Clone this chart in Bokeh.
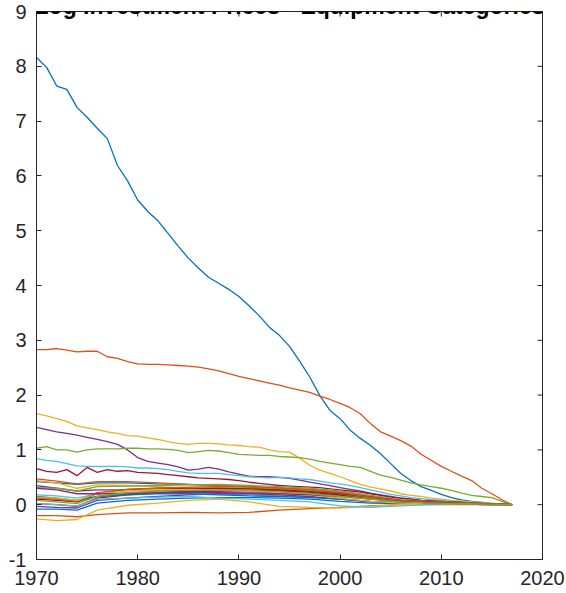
from bokeh.plotting import figure
from bokeh.models import Range1d, FixedTicker, Label
from bokeh.embed import file_html
from bokeh.resources import INLINE

TITLE = "Log Investment Prices - Equipment Categories"
XTICKS = [1970, 1980, 1990, 2000, 2010, 2020]
YTICKS = [-1, 0, 1, 2, 3, 4, 5, 6, 7, 8, 9]
YTICK_LABELS = {-1: "-1"}

COLORS = ["#0072BD", "#D95319", "#EDB120", "#7E2F8E", "#77AC30", "#4DBEEE", "#A2142F"]

YEARS = list(range(1970, 2018))

s1 = [8.16, 7.98, 7.64, 7.58, 7.25, 7.07, 6.87, 6.68, 6.19, 5.91,
      5.56, 5.35, 5.18, 4.95, 4.72, 4.50, 4.32, 4.15, 4.04, 3.93,
      3.80, 3.63, 3.45, 3.24, 3.09, 2.89, 2.62, 2.33, 1.99, 1.72,
      1.57, 1.36, 1.21, 1.08, 0.93, 0.75, 0.57, 0.44, 0.33, 0.26,
      0.19, 0.13, 0.09, 0.06, 0.04, 0.02, 0.01, 0.00]
s2 = [2.83, 2.83, 2.85, 2.82, 2.79, 2.80, 2.80, 2.70, 2.67, 2.61,
      2.57, 2.56, 2.56, 2.55, 2.54, 2.53, 2.51, 2.48, 2.44, 2.39,
      2.34, 2.30, 2.26, 2.22, 2.18, 2.13, 2.09, 2.05, 1.98, 1.92,
      1.85, 1.77, 1.66, 1.48, 1.33, 1.25, 1.17, 1.07, 0.92, 0.81,
      0.70, 0.61, 0.52, 0.44, 0.30, 0.20, 0.09, 0.00]
s3 = [1.66, 1.62, 1.57, 1.52, 1.44, 1.40, 1.37, 1.33, 1.30, 1.26,
      1.25, 1.22, 1.19, 1.15, 1.12, 1.10, 1.12, 1.12, 1.11, 1.09,
      1.08, 1.06, 1.05, 1.00, 0.97, 0.96, 0.85, 0.72, 0.63, 0.57,
      0.51, 0.44, 0.37, 0.32, 0.29, 0.25, 0.20, 0.17, 0.15, 0.12,
      0.10, 0.08, 0.07, 0.05, 0.04, 0.03, 0.01, 0.00]
s4 = [1.41, 1.37, 1.33, 1.30, 1.27, 1.23, 1.19, 1.15, 1.10, 1.00,
      0.86, 0.79, 0.76, 0.73, 0.69, 0.63, 0.65, 0.68, 0.65, 0.60,
      0.56, 0.52, 0.51, 0.51, 0.50, 0.48, 0.45, 0.41, 0.38, 0.35,
      0.31, 0.28, 0.25, 0.21, 0.18, 0.15, 0.12, 0.10, 0.08, 0.07,
      0.06, 0.05, 0.04, 0.03, 0.02, 0.02, 0.01, 0.00]
s5 = [1.03, 1.06, 1.00, 1.00, 0.96, 1.00, 1.02, 1.02, 1.02, 1.03,
      1.03, 1.02, 1.02, 1.01, 0.99, 0.95, 0.97, 0.99, 0.98, 0.95,
      0.92, 0.91, 0.90, 0.90, 0.88, 0.87, 0.86, 0.83, 0.79, 0.76,
      0.73, 0.70, 0.68, 0.61, 0.54, 0.50, 0.45, 0.40, 0.36, 0.33,
      0.30, 0.26, 0.21, 0.17, 0.15, 0.13, 0.06, 0.00]
s6 = [0.84, 0.81, 0.79, 0.75, 0.71, 0.70, 0.70, 0.70, 0.70, 0.69,
      0.67, 0.67, 0.66, 0.64, 0.61, 0.58, 0.57, 0.57, 0.57, 0.55,
      0.53, 0.51, 0.50, 0.49, 0.50, 0.49, 0.47, 0.46, 0.43, 0.40,
      0.38, 0.35, 0.31, 0.27, 0.23, 0.19, 0.16, 0.13, 0.11, 0.09,
      0.08, 0.06, 0.05, 0.04, 0.03, 0.02, 0.01, 0.00]
s7 = [0.66, 0.61, 0.59, 0.64, 0.53, 0.68, 0.59, 0.64, 0.61, 0.62,
      0.59, 0.58, 0.57, 0.55, 0.53, 0.51, 0.49, 0.48, 0.47, 0.46,
      0.44, 0.41, 0.39, 0.37, 0.35, 0.34, 0.33, 0.32, 0.31, 0.29,
      0.27, 0.25, 0.23, 0.20, 0.17, 0.14, 0.12, 0.10, 0.08, 0.07,
      0.06, 0.05, 0.04, 0.03, 0.02, 0.01, 0.01, 0.00]

# remaining categories (values read at these years)
CL_YEARS = [1970, 1972, 1974, 1976, 1979, 1982, 1985, 1988, 1991,
            1994, 1997, 2000, 2003, 2006, 2009, 2012, 2015, 2017]
s8 = [0.42, 0.40, 0.37, 0.40, 0.40, 0.38, 0.37, 0.35, 0.33, 0.30, 0.27, 0.22, 0.15, 0.08, 0.05, 0.03, 0.02, 0.00]
s9 = [0.47, 0.43, 0.38, 0.42, 0.42, 0.40, 0.37, 0.35, 0.33, 0.31, 0.28, 0.24, 0.16, 0.09, 0.06, 0.04, 0.02, 0.00]
s10 = [0.44, 0.40, 0.30, 0.36, 0.35, 0.33, 0.30, 0.28, 0.27, 0.25, 0.23, 0.18, 0.12, 0.07, 0.05, 0.03, 0.01, 0.00]
s11 = [0.35, 0.30, 0.25, 0.27, 0.27, 0.26, 0.25, 0.24, 0.23, 0.22, 0.20, 0.17, 0.12, 0.07, 0.04, 0.02, 0.01, 0.00]
s12 = [0.31, 0.30, 0.25, 0.33, 0.34, 0.35, 0.36, 0.37, 0.35, 0.33, 0.30, 0.25, 0.17, 0.09, 0.05, 0.03, 0.01, 0.00]
s13 = [0.18, 0.16, 0.12, 0.20, 0.22, 0.22, 0.21, 0.20, 0.18, 0.16, 0.14, 0.10, 0.06, 0.03, 0.02, 0.01, 0.00, 0.00]
s14 = [0.02, 0.00, -0.03, 0.12, 0.18, 0.22, 0.25, 0.27, 0.26, 0.25, 0.23, 0.18, 0.11, 0.06, 0.03, 0.02, 0.01, 0.00]
s15 = [-0.08, -0.08, -0.10, 0.03, 0.08, 0.10, 0.12, 0.13, 0.13, 0.12, 0.10, 0.06, 0.03, 0.02, 0.01, 0.01, 0.00, 0.00]
s16 = [-0.20, -0.20, -0.22, -0.18, -0.15, -0.15, -0.14, -0.15, -0.14, -0.10, -0.07, -0.05, -0.02, 0.00, 0.00, 0.00, 0.00, 0.00]
s17 = [-0.26, -0.29, -0.27, -0.10, -0.01, 0.03, 0.08, 0.10, 0.05, -0.03, -0.05, -0.06, -0.03, 0.00, 0.01, 0.01, 0.00, 0.00]
s18 = [-0.03, -0.05, -0.06, 0.08, 0.12, 0.15, 0.18, 0.20, 0.20, 0.18, 0.15, 0.10, 0.05, 0.03, 0.02, 0.01, 0.00, 0.00]
s19 = [0.12, 0.10, 0.05, 0.15, 0.20, 0.25, 0.28, 0.30, 0.30, 0.28, 0.25, 0.20, 0.12, 0.06, 0.03, 0.02, 0.01, 0.00]
s20 = [0.02, 0.00, -0.02, 0.10, 0.12, 0.14, 0.15, 0.12, 0.10, 0.08, 0.05, -0.02, -0.05, -0.02, 0.00, 0.01, 0.00, 0.00]
s21 = [0.10, 0.08, 0.05, 0.20, 0.28, 0.30, 0.30, 0.30, 0.29, 0.27, 0.24, 0.20, 0.14, 0.08, 0.05, 0.03, 0.01, 0.00]
s22 = [0.15, 0.12, 0.08, 0.15, 0.18, 0.20, 0.20, 0.18, 0.16, 0.15, 0.13, 0.10, 0.06, 0.04, 0.02, 0.01, 0.00, 0.00]
s23 = [0.12, 0.10, 0.06, 0.22, 0.28, 0.30, 0.32, 0.33, 0.32, 0.30, 0.27, 0.22, 0.14, 0.08, 0.04, 0.02, 0.01, 0.00]
s24 = [0.14, 0.12, 0.08, 0.20, 0.25, 0.27, 0.28, 0.27, 0.25, 0.22, 0.18, 0.12, 0.06, 0.03, 0.02, 0.01, 0.00, 0.00]
s25 = [0.30, 0.27, 0.20, 0.20, 0.20, 0.22, 0.23, 0.22, 0.21, 0.20, 0.18, 0.15, 0.10, 0.06, 0.03, 0.02, 0.01, 0.00]
s26 = [0.08, 0.05, 0.02, 0.15, 0.22, 0.25, 0.26, 0.27, 0.26, 0.24, 0.20, 0.15, 0.10, 0.05, 0.03, 0.02, 0.01, 0.00]

SERIES = [(YEARS, s) for s in (s1, s2, s3, s4, s5, s6, s7)] + \
         [(CL_YEARS, s) for s in (s8, s9, s10, s11, s12, s13, s14, s15, s16, s17,
                                  s18, s19, s20, s21, s22, s23, s24, s25, s26)]

FONT = "Liberation Sans"
AX = "#262626"

p = figure(width=566, height=593, output_backend="svg", toolbar_location=None,
           x_range=Range1d(1970, 2020), y_range=Range1d(-1, 9),
           min_border_left=36, min_border_right=24, min_border_top=11, min_border_bottom=34)
p.background_fill_color = "white"
p.border_fill_color = "white"
p.outline_line_color = AX
p.grid.visible = False

for i, (xs, ys) in enumerate(SERIES):
    p.line(xs, ys, line_color=COLORS[i % len(COLORS)], line_width=1.3)

# tick marks on the top and right edges of the box (pointing inward)
p.ray(x=XTICKS, y=[9] * len(XTICKS), length=5, length_units="screen",
      angle=-90, angle_units="deg", line_color=AX, line_width=1)
p.ray(x=[2020] * len(YTICKS), y=YTICKS, length=5, length_units="screen",
      angle=180, angle_units="deg", line_color=AX, line_width=1)

xa = p.xaxis[0]
xa.ticker = FixedTicker(ticks=XTICKS)
xa.major_label_text_font = FONT
xa.major_label_text_font_size = "20px"
xa.major_label_text_color = AX
xa.major_label_standoff = 11
xa.major_tick_in = 5
xa.major_tick_out = 0
xa.minor_tick_in = 0
xa.minor_tick_out = 0
xa.axis_line_color = AX
xa.major_tick_line_color = AX

ya = p.yaxis[0]
ya.ticker = FixedTicker(ticks=YTICKS)
ya.major_label_overrides = YTICK_LABELS
ya.major_label_text_font = FONT
ya.major_label_text_font_size = "20px"
ya.major_label_text_color = AX
ya.major_label_standoff = 10
ya.major_tick_in = 5
ya.major_tick_out = 0
ya.minor_tick_in = 0
ya.minor_tick_out = 0
ya.axis_line_color = AX
ya.major_tick_line_color = AX

p.add_layout(Label(x=1995, y=9, text=TITLE, y_offset=6, text_align="center",
                   text_baseline="alphabetic", text_font=FONT, text_font_size="23px",
                   text_font_style="bold", text_color="black"))

open("out.html", "w").write(file_html(p, INLINE))
